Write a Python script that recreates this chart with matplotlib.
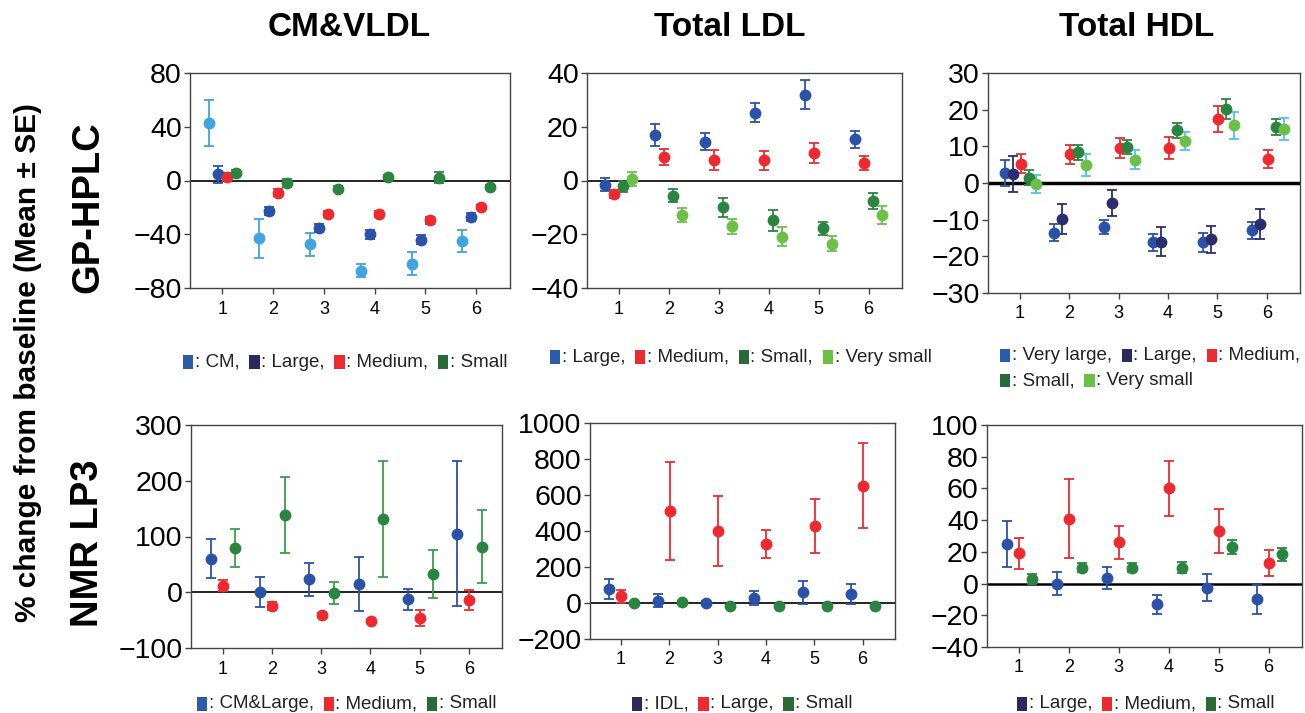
import numpy as np
import matplotlib
matplotlib.use('Agg')
import matplotlib.pyplot as plt
from matplotlib.offsetbox import HPacker, VPacker, TextArea, DrawingArea, AnchoredOffsetbox
from matplotlib.patches import Rectangle

plt.rcParams['font.family'] = ['Liberation Sans', 'DejaVu Sans']

W, H = 1305, 713

groups = [1, 2, 3, 4, 5, 6]

# GP-HPLC, CM&VLDL (% change, mean and SE)
gp_vldl_cm = [43, -43, -47.5, -67, -62, -45]
gp_vldl_cm_se = [17, 14.5, 8.5, 5, 8.5, 8]
gp_vldl_large = [4.5, -23, -35, -40, -44, -27.5]
gp_vldl_large_se = [6, 3, 3, 3.5, 3.5, 3]
gp_vldl_medium = [2.5, -9, -25, -25, -29.5, -19.5]
gp_vldl_medium_se = [3, 2.5, 2.5, 2, 2.5, 1.5]
gp_vldl_small = [5.5, -2, -6, 2.5, 2, -5]
gp_vldl_small_se = [2, 3, 2, 1.5, 4, 1.5]

# GP-HPLC, Total LDL
gp_ldl_large = [-1.5, 17, 14.5, 25.2, 32, 15.3]
gp_ldl_large_se = [2.5, 4.2, 3.2, 3.5, 5.3, 3.3]
gp_ldl_medium = [-5, 8.6, 7.5, 7.5, 10.3, 6.6]
gp_ldl_medium_se = [1.5, 3, 3.7, 3.5, 3.7, 2.6]
gp_ldl_small = [-2.2, -5.6, -10, -14.8, -17.8, -7.7]
gp_ldl_small_se = [2, 2.5, 3.5, 4, 2.5, 3]
gp_ldl_vsmall = [0.6, -12.8, -17.1, -20.9, -23.6, -12.8]
gp_ldl_vsmall_se = [2.5, 2.5, 2.8, 3.5, 2.8, 3.2]

# GP-HPLC, Total HDL
gp_hdl_vlarge = [2.7, -13.5, -12, -16.2, -16.2, -12.9]
gp_hdl_vlarge_se = [3.5, 2.4, 2, 2.4, 2.5, 2.3]
gp_hdl_large = [2.4, -9.8, -5.4, -16, -15.4, -11.2]
gp_hdl_large_se = [4.9, 4, 3.6, 4, 3.8, 4.2]
gp_hdl_medium = [5.3, 7.8, 9.6, 9.6, 17.5, 6.6]
gp_hdl_medium_se = [2.5, 2.5, 2.7, 3, 3.6, 2.5]
gp_hdl_small = [1.5, 8.4, 9.8, 14.4, 20.2, 15.2]
gp_hdl_small_se = [2, 2, 2, 2, 2.7, 2.2]
gp_hdl_vsmall = [-0.3, 4.8, 6.4, 11.4, 15.7, 14.6]
gp_hdl_vsmall_se = [2.5, 3, 2.6, 2.5, 3.6, 3]

# NMR LP3, CM&VLDL
nmr_vldl_large = [60, 0, 23, 15, -13, 105]
nmr_vldl_large_se = [35, 27, 30, 49, 19, 130]
nmr_vldl_medium = [12, -25, -41, -51, -46, -14]
nmr_vldl_medium_se = [10, 7, 4, 3, 14, 18]
nmr_vldl_small = [80, 139, -1, 131, 32, 82]
nmr_vldl_small_se = [34, 68, 20, 104, 43, 65]

# NMR LP3, Total LDL
nmr_ldl_idl = [77, 13, 0, 26, 59, 50]
nmr_ldl_idl_se = [57, 35, 10, 38, 65, 55]
nmr_ldl_large = [37, 511, 400, 328, 428, 651]
nmr_ldl_large_se = [37, 270, 197, 80, 150, 237]
nmr_ldl_small = [-2, 4, -18, -18, -18, -17]
nmr_ldl_small_se = [5, 5, 5, 5, 5, 5]

# NMR LP3, Total HDL
nmr_hdl_large = [25, 0, 3.5, -13, -2.5, -10]
nmr_hdl_large_se = [14.5, 7, 7, 6, 8.5, 9]
nmr_hdl_medium = [19, 41, 26, 60, 33, 13]
nmr_hdl_medium_se = [10, 25, 10.5, 17.5, 14, 8]
nmr_hdl_small = [3, 10, 10, 10, 23, 18.5]
nmr_hdl_small_se = [3, 3, 3, 3.5, 4.5, 4]

# point colours as drawn
SKY = '#3fa4df'
BLUE = '#2a52a8'
NAVY = '#2b2e6e'
RED = '#ee2a30'
DGREEN = '#2b8540'
LGREEN = '#6cc04a'
CYAN = '#4cc8dc'

# key colours
K_BLUE = '#2a5caa'
K_NAVY = '#2b2a5c'
K_RED = '#ee2a2e'
K_GREEN = '#2a6a3a'
K_LGREEN = '#6cbf45'


def panel(fig, box, series, offsets, ylim, yticks, zero_lw=1.2):
    l, t, r, b = box
    ax = fig.add_axes([l / W, 1 - b / H, (r - l) / W, (b - t) / H])
    ax.axhline(0, color='black', lw=zero_lw, zorder=1)
    x = np.array(groups, dtype=float)
    for (vals, se, mcol, ecol), off in zip(series, offsets):
        ax.errorbar(x + off, vals, yerr=se, fmt='o', color=mcol, ecolor=ecol,
                    ms=7.5, elinewidth=1.3, capsize=3.5, capthick=1.3, zorder=3)
    ax.set_xlim(0.36, 6.67)
    ax.set_ylim(ylim)
    ax.set_yticks(yticks)
    ax.set_xticks(groups)
    ax.tick_params(axis='y', labelsize=20.5, length=4, width=1, pad=2, color='#444')
    ax.tick_params(axis='x', labelsize=13, length=4, width=1, pad=5, color='#444')
    for s in ax.spines.values():
        s.set_color('#444')
        s.set_linewidth(1)
    return ax


def key_row(items, fs=13.5):
    boxes = []
    for color, label in items:
        da = DrawingArea(7.5, 9.5)
        da.add_artist(Rectangle((0, 0), 7.5, 9.5, fc=color, ec='none'))
        ta = TextArea(label, textprops=dict(fontsize=fs, color='#222'))
        boxes.append(HPacker(children=[da, ta], sep=1, pad=0, align='center'))
    return HPacker(children=boxes, sep=7, pad=0, align='center')


def add_key(fig, x, y, child):
    ab = AnchoredOffsetbox(loc='center left', child=child, pad=0, borderpad=0,
                           frameon=False, bbox_to_anchor=(x / W, 1 - y / H),
                           bbox_transform=fig.transFigure)
    fig.add_artist(ab)


fig = plt.figure(figsize=(W / 100, H / 100), dpi=100)

off4 = [-0.27, -0.09, 0.09, 0.27]
off5 = [-0.3, -0.14, 0.02, 0.18, 0.34]
off3 = [-0.24, 0.01, 0.26]

panel(fig, (190, 73, 510, 288),
      [(gp_vldl_cm, gp_vldl_cm_se, SKY, SKY),
       (gp_vldl_large, gp_vldl_large_se, BLUE, BLUE),
       (gp_vldl_medium, gp_vldl_medium_se, RED, RED),
       (gp_vldl_small, gp_vldl_small_se, DGREEN, DGREEN)],
      off4, (-80, 80), [-80, -40, 0, 40, 80])

panel(fig, (587, 73, 902, 288),
      [(gp_ldl_large, gp_ldl_large_se, BLUE, BLUE),
       (gp_ldl_medium, gp_ldl_medium_se, RED, RED),
       (gp_ldl_small, gp_ldl_small_se, DGREEN, DGREEN),
       (gp_ldl_vsmall, gp_ldl_vsmall_se, LGREEN, LGREEN)],
      off4, (-40, 40), [-40, -20, 0, 20, 40])

panel(fig, (988, 73, 1300, 293),
      [(gp_hdl_vlarge, gp_hdl_vlarge_se, BLUE, BLUE),
       (gp_hdl_large, gp_hdl_large_se, NAVY, NAVY),
       (gp_hdl_medium, gp_hdl_medium_se, RED, RED),
       (gp_hdl_small, gp_hdl_small_se, DGREEN, DGREEN),
       (gp_hdl_vsmall, gp_hdl_vsmall_se, LGREEN, CYAN)],
      off5, (-30, 30), [-30, -20, -10, 0, 10, 20, 30], zero_lw=2.5)

panel(fig, (191, 425, 502, 648),
      [(nmr_vldl_large, nmr_vldl_large_se, BLUE, BLUE),
       (nmr_vldl_medium, nmr_vldl_medium_se, RED, RED),
       (nmr_vldl_small, nmr_vldl_small_se, DGREEN, '#3c9e4c')],
      off3, (-100, 300), [-100, 0, 100, 200, 300])

panel(fig, (590, 423, 895, 639),
      [(nmr_ldl_idl, nmr_ldl_idl_se, BLUE, BLUE),
       (nmr_ldl_large, nmr_ldl_large_se, RED, RED),
       (nmr_ldl_small, nmr_ldl_small_se, DGREEN, DGREEN)],
      off3, (-200, 1000), [-200, 0, 200, 400, 600, 800, 1000])

panel(fig, (987, 425, 1302, 647),
      [(nmr_hdl_large, nmr_hdl_large_se, BLUE, BLUE),
       (nmr_hdl_medium, nmr_hdl_medium_se, RED, RED),
       (nmr_hdl_small, nmr_hdl_small_se, DGREEN, DGREEN)],
      off3, (-40, 100), [-40, -20, 0, 20, 40, 60, 80, 100], zero_lw=1.8)

# column and row titles
fig.text(349 / W, 1 - 28 / H, 'CM&VLDL', ha='center', va='center', fontsize=24, fontweight='bold')
fig.text(730 / W, 1 - 28 / H, 'Total LDL', ha='center', va='center', fontsize=24, fontweight='bold')
fig.text(1137 / W, 1 - 28 / H, 'Total HDL', ha='center', va='center', fontsize=24, fontweight='bold')
fig.text(88 / W, 1 - 207 / H, 'GP-HPLC', ha='center', va='center', rotation=90, fontsize=27.5, fontweight='bold')
fig.text(88 / W, 1 - 543 / H, 'NMR LP3', ha='center', va='center', rotation=90, fontsize=27.5, fontweight='bold')
fig.text(28 / W, 1 - 363 / H, '% change from baseline (Mean ± SE)', ha='center', va='center',
         rotation=90, fontsize=21.5, fontweight='bold')

# keys
add_key(fig, 183, 362, key_row([(K_BLUE, ': CM,'), (K_NAVY, ': Large,'),
                                (K_RED, ': Medium,'), (K_GREEN, ': Small')]))
add_key(fig, 550, 357, key_row([(K_BLUE, ': Large,'), (K_RED, ': Medium,'),
                                (K_GREEN, ': Small,'), (K_LGREEN, ': Very small')]))
add_key(fig, 1000, 368, VPacker(children=[
    key_row([(K_BLUE, ': Very large,'), (K_NAVY, ': Large,'), (K_RED, ': Medium,')]),
    key_row([(K_GREEN, ': Small,'), (K_LGREEN, ': Very small')])], sep=6, pad=0, align='left'))
add_key(fig, 197, 704, key_row([(K_BLUE, ': CM&Large,'), (K_RED, ': Medium,'), (K_GREEN, ': Small')]))
add_key(fig, 632, 704, key_row([(K_NAVY, ': IDL,'), (K_RED, ': Large,'), (K_GREEN, ': Small')]))
add_key(fig, 1017, 704, key_row([(K_NAVY, ': Large,'), (K_RED, ': Medium,'), (K_GREEN, ': Small')]))

fig.savefig('out.png', dpi=100)
